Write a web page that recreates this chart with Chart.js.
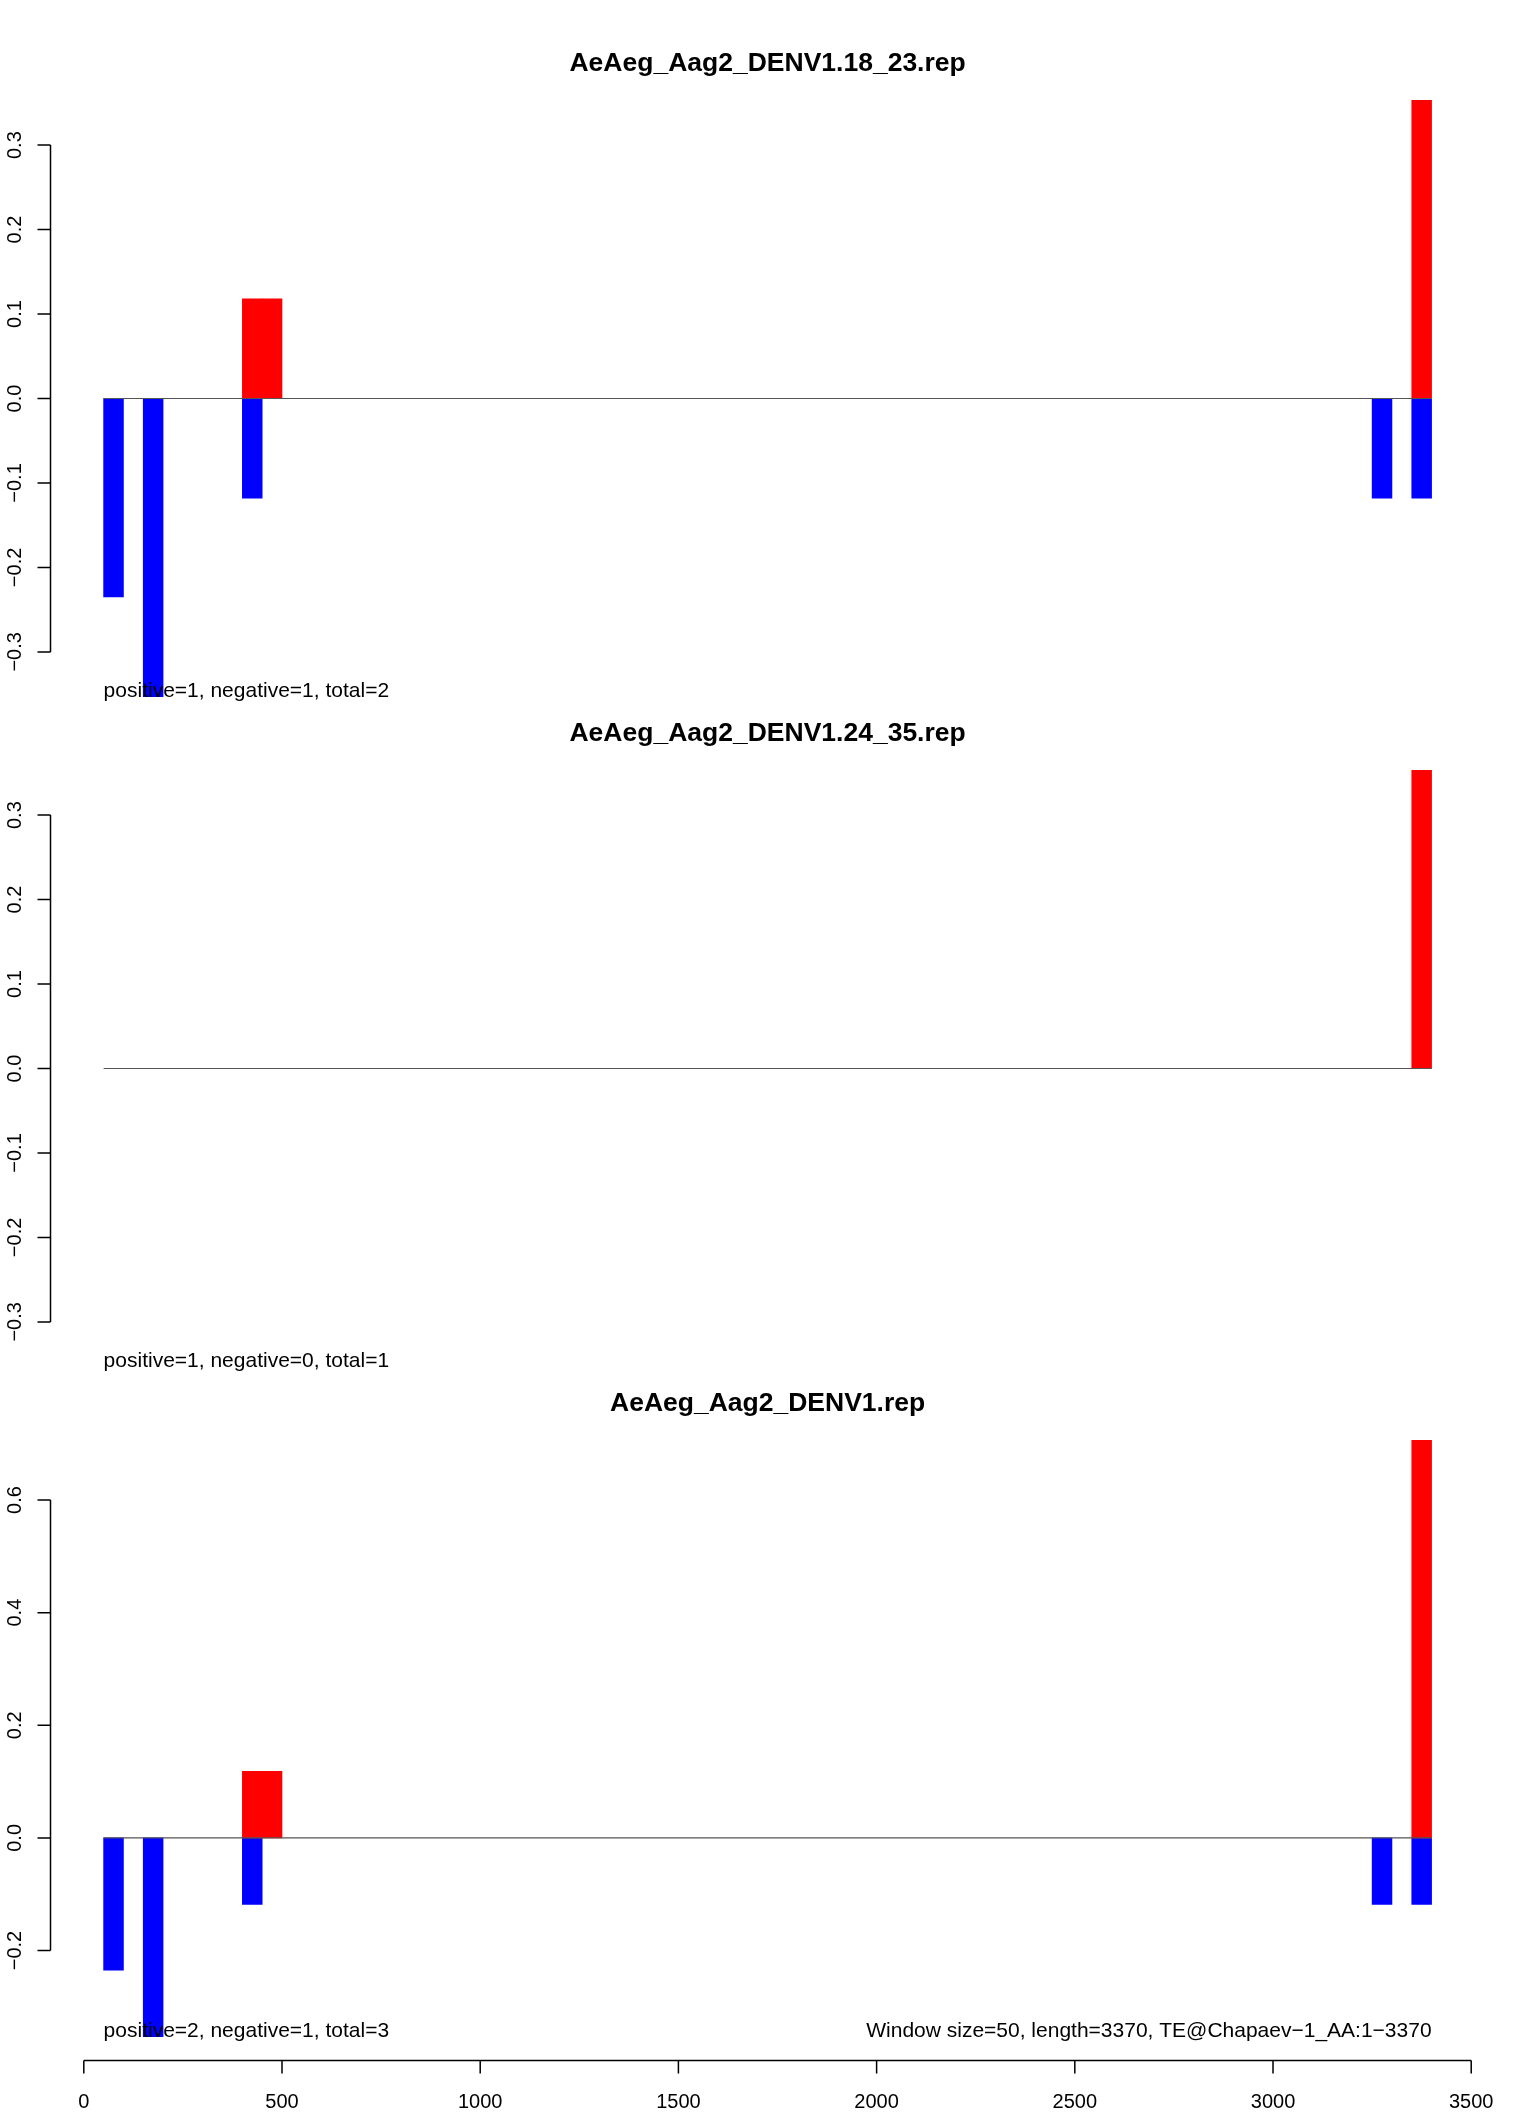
<!DOCTYPE html>
<html>
<head>
<meta charset="utf-8">
<script src="https://cdn.jsdelivr.net/npm/chart.js@4/dist/chart.umd.min.js"></script>
<style>
  html, body { margin: 0; padding: 0; background: #fff; }
  body { width: 1536px; height: 2112px; position: relative; overflow: hidden; }
  canvas { position: absolute; left: 0; }
</style>
</head>
<body>
<canvas id="p1" width="1536" height="730" style="top:0px"></canvas>
<canvas id="p2" width="1536" height="730" style="top:670px"></canvas>
<canvas id="p3" width="1536" height="772" style="top:1340px"></canvas>
<script>
/* Sliding-window strand plot, three panels sharing one x range */

const WINDOW = 50;
const SEQ_RANGE = [50, 3400];          // first window start .. last window end
const xTicks = [0, 500, 1000, 1500, 2000, 2500, 3000, 3500];

const titles = ['AeAeg_Aag2_DENV1.18_23.rep', 'AeAeg_Aag2_DENV1.24_35.rep', 'AeAeg_Aag2_DENV1.rep'];
const counts = [
  'positive=1, negative=1, total=2',
  'positive=1, negative=0, total=1',
  'positive=2, negative=1, total=3'
];
const footnote = 'Window size=50, length=3370, TE@Chapaev\u22121_AA:1\u22123370';

// panel 1
const negStart1 = [50, 150, 400, 3250, 3350];
const negVal1   = [-0.235, -0.353, -0.118, -0.118, -0.118];
const posStart1 = [400, 450, 3350];
const posVal1   = [0.118, 0.118, 0.353];
// panel 2
const negStart2 = [];
const negVal2   = [];
const posStart2 = [3350];
const posVal2   = [0.353];
// panel 3
const negStart3 = [50, 150, 400, 3250, 3350];
const negVal3   = [-0.235, -0.353, -0.118, -0.118, -0.118];
const posStart3 = [400, 450, 3350];
const posVal3   = [0.118, 0.118, 0.706];

const yLim1 = [-0.353, 0.353];
const yLim2 = [-0.353, 0.353];
const yLim3 = [-0.353, 0.706];
const yTicks1 = [-0.3, -0.2, -0.1, 0, 0.1, 0.2, 0.3];
const yTicks2 = [-0.3, -0.2, -0.1, 0, 0.1, 0.2, 0.3];
const yTicks3 = [-0.2, 0, 0.2, 0.4, 0.6];

Chart.defaults.font.family = '"Liberation Sans", Arial, Helvetica, sans-serif';
Chart.defaults.color = '#000';

const FONT = '"Liberation Sans", Arial, Helvetica, sans-serif';
const TICK = 13;
const TITLE_SIZE = 26.5;

// R style: axis limits padded by 4% of the data range
function pad(lim) {
  const d = (lim[1] - lim[0]) * 0.04;
  return [lim[0] - d, lim[1] + d];
}

function fmt(v, digits) {
  return (v < 0 ? '\u2212' : '') + Math.abs(v).toFixed(digits);
}

function toPoints(starts, vals) {
  return starts.map((s, i) => ({ x: s + WINDOW / 2, y: vals[i] }));
}

const barWidth = ctx => {
  const sx = ctx.chart.scales.x;
  return sx.getPixelForValue(WINDOW) - sx.getPixelForValue(0);
};

// axes drawn the way R's axis() does: line only between first and last tick
const rAxes = {
  id: 'rAxes',
  afterDraw(chart, args, opts) {
    const { ctx, chartArea } = chart;
    const sx = chart.scales.x, sy = chart.scales.y;
    ctx.save();
    ctx.strokeStyle = '#000';
    ctx.fillStyle = '#000';
    ctx.lineWidth = 1.5;

    const ys = sy.ticks.map(t => sy.getPixelForValue(t.value));
    const ax = chartArea.left;
    ctx.beginPath();
    ctx.moveTo(ax, Math.min(...ys));
    ctx.lineTo(ax, Math.max(...ys));
    ys.forEach(p => { ctx.moveTo(ax, p); ctx.lineTo(ax - TICK, p); });
    ctx.stroke();

    ctx.font = '20px ' + FONT;
    ctx.textAlign = 'center';
    ctx.textBaseline = 'alphabetic';
    sy.ticks.forEach((t, i) => {
      ctx.save();
      ctx.translate(ax - 30, ys[i]);
      ctx.rotate(-Math.PI / 2);
      ctx.fillText(fmt(t.value, 1), 0, 0);
      ctx.restore();
    });

    if (opts.xAxis) {
      const xs = xTicks.map(v => sx.getPixelForValue(v));
      const ay = chartArea.bottom;
      ctx.beginPath();
      ctx.moveTo(xs[0], ay);
      ctx.lineTo(xs[xs.length - 1], ay);
      xs.forEach(p => { ctx.moveTo(p, ay); ctx.lineTo(p, ay + TICK); });
      ctx.stroke();
      xTicks.forEach((v, i) => ctx.fillText(String(v), xs[i], ay + 47));
    }

    // count text sits at the lower y limit, starting at the first window
    ctx.font = '21px ' + FONT;
    const ty = sy.getPixelForValue(opts.yLow);
    ctx.textAlign = 'left';
    ctx.fillText(opts.note, sx.getPixelForValue(SEQ_RANGE[0]), ty);
    if (opts.footnote) {
      ctx.textAlign = 'right';
      ctx.fillText(opts.footnote, sx.getPixelForValue(SEQ_RANGE[1]), ty);
    }
    ctx.restore();
  }
};

function panel(id, idx, negS, negV, posS, posV, yLim, yTicks, bottomAxis) {
  const xr = pad(SEQ_RANGE);
  const yr = pad(yLim);
  const canvas = document.getElementById(id);
  const plotH = 644;
  const top = 76.5;
  const titleLine = TITLE_SIZE * 1.2;
  const titleGap = -3;
  return new Chart(canvas, {
    type: 'bar',
    data: {
      datasets: [
        {
          type: 'line',
          data: SEQ_RANGE.map(v => ({ x: v, y: 0 })),
          borderColor: '#555555', borderWidth: 1.2,
          pointRadius: 0, fill: false
        },
        {
          data: toPoints(posS, posV),
          backgroundColor: '#FF0000', borderWidth: 0,
          grouped: false, barThickness: barWidth
        },
        {
          data: toPoints(negS, negV),
          backgroundColor: '#0000FF', borderWidth: 0,
          grouped: false, barThickness: barWidth
        }
      ]
    },
    options: {
      responsive: false,
      animation: false,
      events: [],
      layout: {
        padding: { left: 50.5, right: 51.3, top: top - titleLine - titleGap, bottom: canvas.height - top - plotH }
      },
      scales: {
        x: { type: 'linear', min: xr[0], max: xr[1], offset: false, display: false,
             afterBuildTicks: s => { s.ticks = xTicks.map(v => ({ value: v })); } },
        y: { type: 'linear', min: yr[0], max: yr[1], offset: false, display: false,
             afterBuildTicks: s => { s.ticks = yTicks.map(v => ({ value: v })); } }
      },
      plugins: {
        legend: { display: false },
        tooltip: { enabled: false },
        title: {
          display: true, text: titles[idx], color: '#000',
          font: { size: TITLE_SIZE, weight: 'bold', lineHeight: 1.2 },
          padding: { top: 0, bottom: titleGap }
        },
        rAxes: { xAxis: bottomAxis, yLow: yLim[0], note: counts[idx], footnote: bottomAxis ? footnote : null }
      }
    },
    plugins: [rAxes]
  });
}

panel('p1', 0, negStart1, negVal1, posStart1, posVal1, yLim1, yTicks1, false);
panel('p2', 1, negStart2, negVal2, posStart2, posVal2, yLim2, yTicks2, false);
panel('p3', 2, negStart3, negVal3, posStart3, posVal3, yLim3, yTicks3, true);
</script>
</body>
</html>
